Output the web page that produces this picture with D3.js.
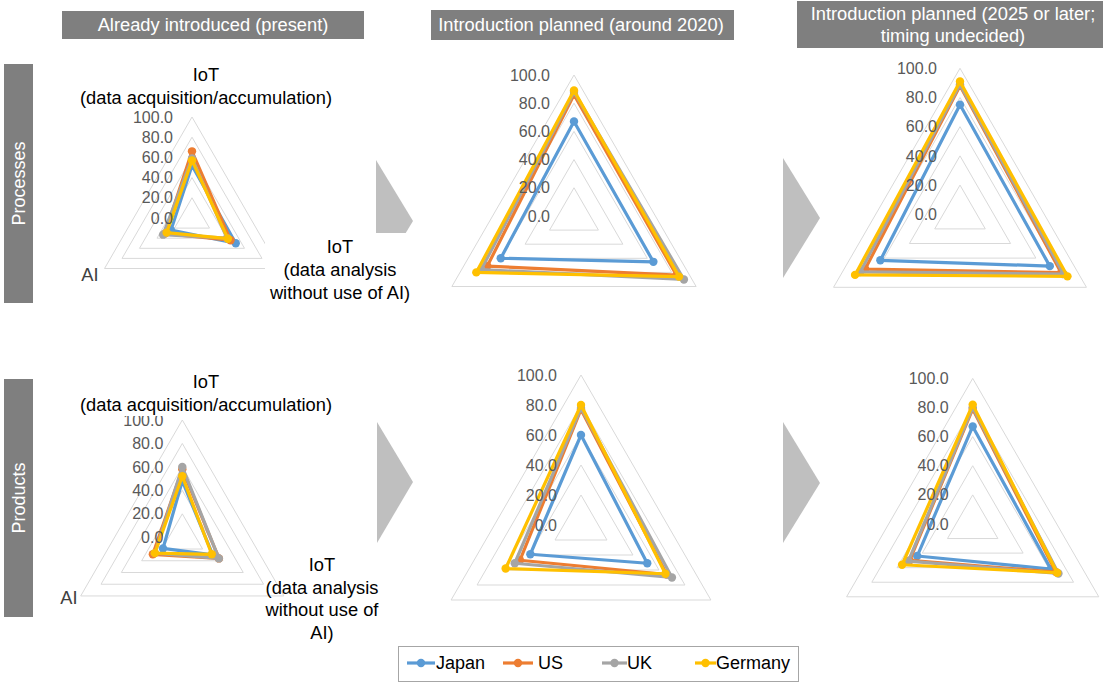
<!DOCTYPE html>
<html>
<head>
<meta charset="utf-8">
<script src="https://cdn.jsdelivr.net/npm/d3@7"></script>
<style>
  html, body { margin: 0; padding: 0; background: #fff; }
  svg { display: block; font-family: "Liberation Sans", Arial, sans-serif; }
</style>
</head>
<body>
<svg id="chart" width="1103" height="685"></svg>
<script>
// Axes of every radar (clockwise from the top)
const axes = ["IoT (data acquisition/accumulation)", "IoT (data analysis without use of AI)", "AI"];
const countries = ["Japan", "US", "UK", "Germany"];
const colors = ["#5B9BD5", "#ED7D31", "#A5A5A5", "#FFC000"];
const ticks = [0, 20, 40, 60, 80, 100];
const columnTitles = [["Already introduced (present)"], ["Introduction planned (around 2020)"], ["Introduction planned (2025 or later;", "timing undecided)"]];
const rowTitles = ["Processes", "Products"];

// Shares (%) per country: [acquisition/accumulation, analysis without AI, AI]
const processesPresent = [[52, 50, 24], [66, 44, 31], [59, 40, 33], [57, 41, 29]];
const processes2020    = [[67, 65, 60], [86, 84, 71], [88, 90, 76], [89, 86, 80]];
const processesLater   = [[75, 71, 63], [88, 80, 75], [89, 82, 79], [91, 85, 83]];
const productsPresent  = [[48, 30, 19], [58, 36, 29], [60, 36, 27], [52, 29, 27]];
const products2020     = [[60, 51, 39], [77, 66, 47], [78, 70, 51], [80, 65, 58]];
const productsLater    = [[67, 62, 44], [79, 66, 50], [80, 68, 51], [82, 67, 56]];

const svg = d3.select("#chart");
const GREY_BOX = "#7f7f7f";

// Column headers
const headerBoxes = [
  {x: 62, y: 11, w: 302, h: 28, cx: 213},
  {x: 431, y: 10, w: 303, h: 30, cx: 581},
  {x: 797, y: 1, w: 320, h: 47, cx: 953}
];
headerBoxes.forEach((b, i) => {
  svg.append("rect").attr("x", b.x).attr("y", b.y).attr("width", b.w).attr("height", b.h).attr("fill", GREY_BOX);
  const lines = columnTitles[i];
  const lh = 22;
  const y0 = b.y + b.h / 2 - (lines.length - 1) * lh / 2;
  lines.forEach((t, j) => {
    svg.append("text").attr("x", b.cx).attr("y", y0 + j * lh).attr("dy", "0.35em")
      .attr("text-anchor", "middle").attr("fill", "#fff").attr("font-size", 18.3).text(t);
  });
});

// Row headers
const rowBoxes = [{y: 64, h: 239}, {y: 379, h: 238}];
rowBoxes.forEach((b, i) => {
  svg.append("rect").attr("x", 4).attr("y", b.y).attr("width", 29).attr("height", b.h).attr("fill", GREY_BOX);
  const cy = b.y + b.h / 2;
  svg.append("text").attr("transform", `translate(19,${cy}) rotate(-90)`).attr("dy", "0.35em")
    .attr("text-anchor", "middle").attr("fill", "#fff").attr("font-size", 18).text(rowTitles[i]);
});

// Progression arrows between the columns
const arrows = [
  [[376, 160], [413, 221], [376, 282]],
  [[783, 158], [820, 218], [783, 278]],
  [[377, 422], [413, 482], [377, 543]],
  [[783, 422], [820, 483], [783, 543]]
];
arrows.forEach(pts => {
  svg.append("path").attr("d", d3.line()(pts) + "Z").attr("fill", "#bfbfbf");
});

// Radar panels
const panels = [
  {data: processesPresent, cx: 192, cy: 218, r: 101, tickDx: 19},
  {data: processes2020, cx: 574, cy: 216, r: 141, tickDx: 24},
  {data: processesLater, cx: 960, cy: 214.3, r: 146, tickDx: 23},
  {data: productsPresent, cx: 182.3, cy: 537.3, r: 117.3, tickDx: 19},
  {data: products2020, cx: 581, cy: 525, r: 150, tickDx: 24},
  {data: productsLater, cx: 972.7, cy: 524, r: 145.6, tickDx: 24}
];

const angle = d3.scalePoint().domain(d3.range(axes.length)).range([0, 2 * Math.PI * (axes.length - 1) / axes.length]);

function drawRadar(p) {
  const g = svg.append("g").attr("transform", `translate(${p.cx},${p.cy})`);
  const rScale = d3.scaleLinear().domain([0, 100]).range([0, p.r]);
  const radial = d3.lineRadial()
    .angle((d, i) => angle(i))
    .radius(d => rScale(d))
    .curve(d3.curveLinearClosed);

  // gridlines
  ticks.filter(t => t > 0).forEach(t => {
    g.append("path").attr("d", radial(axes.map(() => t)))
      .attr("fill", "none").attr("stroke", "#d9d9d9").attr("stroke-width", 1);
  });

  // series
  p.data.forEach((vals, k) => {
    g.append("path").attr("d", radial(vals))
      .attr("fill", "none").attr("stroke", colors[k]).attr("stroke-width", 3.2)
      .attr("stroke-linejoin", "round");
    g.selectAll(null).data(vals).enter().append("circle")
      .attr("cx", (d, i) => d3.pointRadial(angle(i), rScale(d))[0])
      .attr("cy", (d, i) => d3.pointRadial(angle(i), rScale(d))[1])
      .attr("r", 4.2).attr("fill", colors[k]);
  });

  // value ticks
  g.selectAll(null).data(ticks).enter().append("text")
    .attr("x", -p.tickDx).attr("y", d => -rScale(d)).attr("dy", "0.35em")
    .attr("text-anchor", "end").attr("fill", "#595959").attr("font-size", 16)
    .text(d => d3.format(".1f")(d));
  return g;
}

panels.forEach(drawRadar);

// Category labels on the "present" panels
function textBlock(x, y, lines, color, lh) {
  lines.forEach((t, j) => {
    svg.append("text").attr("x", x).attr("y", y + j * lh).attr("dy", "0.35em")
      .attr("text-anchor", "middle").attr("fill", color).attr("font-size", 18.3).text(t);
  });
}

// Processes, present
textBlock(206, 75, ["IoT", "(data acquisition/accumulation)"], "#000", 23);
svg.append("rect").attr("x", 265).attr("y", 233).attr("width", 148).attr("height", 71).attr("fill", "#fff");
textBlock(340, 247, ["IoT", "(data analysis", "without use of AI)"], "#000", 23);
textBlock(90, 275, ["AI"], "#404040", 23);

// Products, present: the top label sits on a white box over the upper tick
svg.append("rect").attr("x", 80).attr("y", 368).attr("width", 254).attr("height", 48).attr("fill", "#fff");
textBlock(206, 382, ["IoT", "(data acquisition/accumulation)"], "#000", 23);
textBlock(322, 565, ["IoT", "(data analysis", "without use of", "AI)"], "#000", 22.5);
textBlock(69, 598, ["AI"], "#404040", 23);

// Legend
const legend = svg.append("g");
legend.append("rect").attr("x", 398.5).attr("y", 646.5).attr("width", 400).attr("height", 35)
  .attr("fill", "#fff").attr("stroke", "#a6a6a6").attr("stroke-width", 1);
const legendItems = [
  {x1: 407, x2: 435, tx: 436},
  {x1: 503, x2: 533, tx: 538},
  {x1: 602, x2: 627, tx: 627},
  {x1: 695, x2: 716, tx: 716}
];
const ly = 663;
countries.forEach((c, k) => {
  const it = legendItems[k];
  legend.append("line").attr("x1", it.x1).attr("x2", it.x2).attr("y1", ly).attr("y2", ly)
    .attr("stroke", colors[k]).attr("stroke-width", 3.2);
  legend.append("circle").attr("cx", (it.x1 + it.x2) / 2).attr("cy", ly).attr("r", 4.2).attr("fill", colors[k]);
  legend.append("text").attr("x", it.tx).attr("y", ly).attr("dy", "0.35em")
    .attr("font-size", 18).attr("fill", "#000").text(c);
});
</script>
</body>
</html>
